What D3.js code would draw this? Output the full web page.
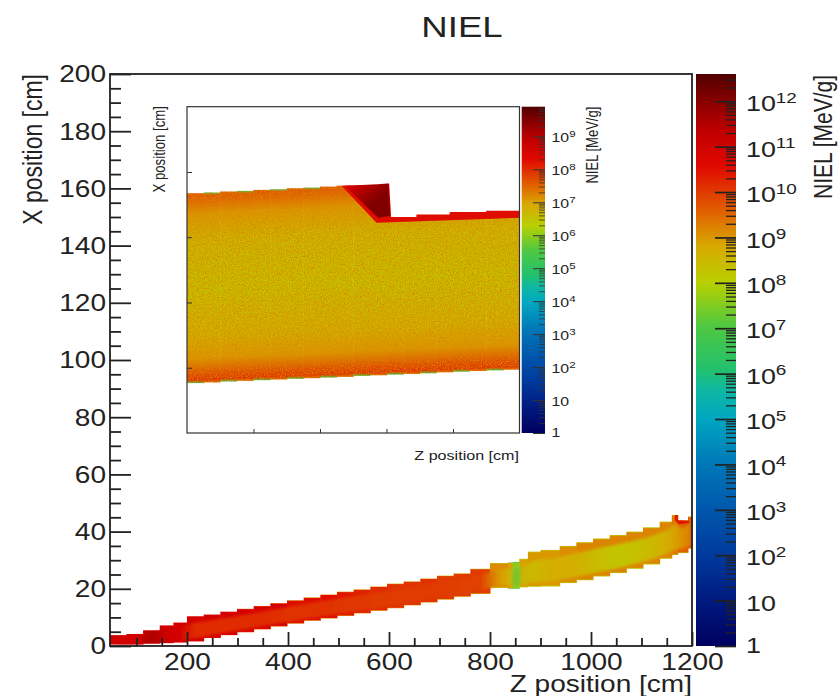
<!DOCTYPE html>
<html lang="en">
<head>
<meta charset="UTF-8">
<title>NIEL</title>
<script src="https://d3js.org/d3.v7.min.js"></script>
<style>
    html, body { margin: 0; padding: 0; background: #fff; }
    svg { display: block; }
    text { font-family: "Liberation Sans", Arial, sans-serif; fill: #222; }
    .axis path, .axis line { stroke: #222; }
    .inset path, .inset line { stroke: #333; }
</style>
</head>
<body>
<svg id="chart" width="840" height="696"></svg>
<script>
// main plot: one column per stair step, column i runs mainZ[i] .. mainZ[i+1]
const mainZ = [47, 80, 113, 146, 173, 200, 233, 266, 299, 332, 365, 398, 431, 464, 497, 530, 563, 596, 629, 662, 695, 728, 761,
    800, 835, 845, 858, 875, 900, 938, 971, 1004, 1037, 1070, 1103, 1136, 1160, 1172, 1192, 1200];
const mainTop = [3.8, 4.2, 5.5, 7.2, 8.2, 10.4, 11, 12, 13, 14, 15, 16, 17, 18, 19, 19.8, 20.8, 21.8, 22.6, 23.6, 24.6, 25.4, 27,
    29, 29.2, 29.4, 30.5, 33, 33.6, 35, 36.3, 37.6, 38.8, 40, 41.5, 43.5, 45.8, 44, 45.3];
const mainBottom = [0.5, 0.5, 0.8, 1, 1.2, 1.6, 2.8, 3.8, 4.8, 5.8, 6.8, 7.8, 8.8, 9.6, 10.5, 11.4, 12.3, 13.2, 14.2, 15.2, 16.2, 17.2, 18.2,
    20.3, 20, 20, 20.5, 20.7, 20.8, 22, 23, 24.3, 25.5, 27, 28.5, 30.5, 31.8, 32.5, 34];
// exponents of NIEL [MeV/g]: thin outer rim, edge zone, core of the column
const mainOuter = [10.8, 10.8, 11, 10.8, 10.8, 10.6, 10.6, 10.6, 10, 9.6, 9.4, 9.2, 9, 9, 9, 9, 9, 9, 8.8, 8.8, 8.8, 8.8, 8.6,
    8.2, 7.5, 6.6, 8, 8, 8, 8.2, 8.2, 8.2, 8.2, 8.2, 8.2, 8.4, 8.4, 8.6, 8.8];
const mainEdge = [10.9, 10.9, 11.4, 11, 10.9, 10.9, 10.9, 10.9, 10.8, 10.8, 10.8, 10.7, 10.6, 10.5, 10.4, 10.3, 10.2, 10.1, 10.1, 10.1, 10, 10, 10,
    9.1, 8.9, 7.6, 8.9, 9, 9, 9.1, 9.2, 9.2, 9.2, 9.2, 9.2, 9.2, 9.3, 9.6, 9.6];
const mainCore = [10.9, 10.9, 11.6, 11, 10.9, 10.2, 10.2, 10.2, 10.2, 10.2, 10.15, 10.1, 10.1, 10.1, 10.05, 10.05, 10, 10, 10, 10, 10, 9.95, 9.95,
    9, 8.6, 7.2, 8.6, 8.5, 8.7, 8.7, 8.6, 8.35, 8.25, 8.3, 8.5, 8.7, 8.9, 9.1, 9.2];
const mainRim = [0, 0.04, 0.96, 1];
// little red notch near the end of the tube
const notchZ = [1166, 1172, 1172, 1194, 1194, 1174, 1166];
const notchX = [45.8, 45.8, 44, 43.8, 43, 42.6, 44];

const xMajor = [200, 400, 600, 800, 1000, 1200];
const xMinor = [100, 150, 250, 300, 350, 450, 500, 550, 650, 700, 750, 850, 900, 950, 1050, 1100, 1150];
const yMajor = [0, 20, 40, 60, 80, 100, 120, 140, 160, 180, 200];
const yMinor = [5, 10, 15, 25, 30, 35, 45, 50, 55, 65, 70, 75, 85, 90, 95, 105, 110, 115, 125, 130, 135, 145, 150, 155, 165, 170, 175, 185, 190, 195];

// colour bar, position along the bar (0..1) and colour
const barPos = [0, 0.08, 0.16, 0.24, 0.32, 0.40, 0.45, 0.48, 0.56, 0.635, 0.70, 0.76, 0.84, 0.90, 0.96, 1];
const barColors = ["#00005f", "#001a80", "#003a9c", "#0058ac", "#0078b8", "#00a8c0", "#10b8a0", "#20c070", "#50c840", "#b8d000",
    "#d8a800", "#e06000", "#e00800", "#c00000", "#800000", "#500000"];
const mainDecades = [0, 1, 2, 3, 4, 5, 6, 7, 8, 9, 10, 11, 12];
const insetDecades = [0, 1, 2, 3, 4, 5, 6, 7, 8, 9];
const minorMult = [2, 3, 4, 5, 6, 7, 8, 9];

// inset, axis position in percent of the frame
const insetZ = [0, 5, 10, 15, 20, 25, 30, 35, 40, 45, 50, 55, 60, 65, 70, 75, 80, 85, 90, 95, 100];
const insetTop = [73.5, 73.7, 74, 74.2, 74.5, 74.7, 75, 75.2, 75.5, 75.8, 76, 76.2, 76.4, 76.6, 76.8, 77, 77.2, 77.4, 77.6, 77.8];
const insetBottom = [15.3, 15.5, 15.8, 16, 16.2, 16.4, 16.6, 16.8, 17, 17.2, 17.5, 17.7, 17.9, 18.1, 18.3, 18.6, 18.8, 19, 19.2, 19.4];
const insetRimTop = [7.5, 5.5, 7.5, 5.5, 7.5, 5.5, 7.5, 5.5, 7.5, 7.5, 7.5, 7.5, 7.5, 7.5, 7.5, 7.5, 7.5, 7.5, 7.5, 7.5];
const insetRimBottom = [5.5, 7.4, 5.5, 7.4, 5.5, 7.4, 5.5, 7.4, 5.5, 7.4, 5.5, 7.4, 5.5, 7.4, 5.5, 7.4, 5.5, 7.4, 5.5, 7.4];
const insetProfile = [0.012, 0.04, 0.11, 0.25, 0.5, 0.75, 0.87, 0.95, 0.985];
const insetValues = [7.6, 7.5, 7.05, 6.65, 6.5, 6.75, 7.05, 7.7, 7.95];
// outline of the band, keeps the columns under the recess
const clipZ = [0, 46.5, 57, 100, 100, 0];
const clipX = [80, 80, 64.6, 66.2, 0, 0];
const wedgeZ = [46.5, 58, 58, 60.8, 61.4, 69, 69, 79, 79, 90, 90, 100, 100, 57];
const wedgeX = [75.8, 75.9, 76.3, 76.5, 66.2, 66.2, 67, 67, 67.7, 67.7, 68.1, 68.1, 66, 64.4];
const darkZ = [47.5, 60.6, 61.1, 57.5];
const darkX = [75.8, 76.4, 66.6, 66];
const insetTicks = [20, 40, 60, 80];

const STRETCH = 1.22; // the picture is wider than tall, all glyphs go with it

const svg = d3.select("#chart");
const defs = svg.append("defs");

// scales
const x = d3.scaleLinear().domain([47.5, 1200]).range([110, 692]);
const y = d3.scaleLinear().domain([0, 200]).range([646, 74]);
const barMax = 12.6;
const barY = d3.scaleLog().domain([1, Math.pow(10, barMax)]).range([646, 74]);
const insetBarMax = 9.9;
const insetBarY = d3.scaleLog().domain([1, Math.pow(10, insetBarMax)]).range([433, 106.7]);
const ix = d3.scaleLinear().domain([0, 100]).range([187, 519.5]);
const iy = d3.scaleLinear().domain([0, 100]).range([433, 106.7]);

const palette = d3.scaleLinear().domain(barPos).range(barColors).clamp(true);
const mainColor = v => palette(v / barMax);
const insetColor = v => palette(v / insetBarMax);

// filters
defs.append("filter").attr("id", "soft")
    .append("feGaussianBlur").attr("stdDeviation", 0.7);
defs.append("filter").attr("id", "softer")
    .attr("x", "-2%").attr("y", "-10%").attr("width", "104%").attr("height", "120%")
    .append("feGaussianBlur").attr("stdDeviation", 1.6);

const speck = defs.append("filter").attr("id", "speck")
    .attr("color-interpolation-filters", "sRGB")
    .attr("x", "-2%").attr("y", "-2%").attr("width", "104%").attr("height", "104%");
speck.append("feTurbulence").attr("type", "fractalNoise").attr("baseFrequency", 0.75)
    .attr("numOctaves", 3).attr("seed", 4).attr("result", "noise");
speck.append("feColorMatrix").attr("in", "noise").attr("type", "matrix")
    .attr("values", "0 0 0 0 0.86  0 0 0 0 0.52  0 0 0 0 0  2.6 0 0 0 -1.05").attr("result", "spots");
speck.append("feComposite").attr("in", "spots").attr("in2", "SourceAlpha").attr("operator", "in").attr("result", "clipped");
const speckMerge = speck.append("feMerge").attr("result", "merged");
speckMerge.append("feMergeNode").attr("in", "SourceGraphic");
speckMerge.append("feMergeNode").attr("in", "clipped");
speck.append("feGaussianBlur").attr("in", "merged").attr("stdDeviation", 0.6);

const barFill = defs.append("linearGradient").attr("id", "barFill")
    .attr("x1", 0).attr("y1", 1).attr("x2", 0).attr("y2", 0);
barPos.forEach((p, i) => barFill.append("stop").attr("offset", p).attr("stop-color", barColors[i]));

function columnGradient(id, offsets, colors) {
    const g = defs.append("linearGradient").attr("id", id)
        .attr("x1", 0).attr("y1", 0).attr("x2", 0).attr("y2", 1);
    offsets.forEach((o, i) => g.append("stop").attr("offset", o).attr("stop-color", colors[i]));
}

// main columns
const mainG = svg.append("g").attr("filter", "url(#soft)");
mainTop.forEach((top, i) => {
    const id = "mc" + i;
    columnGradient(id, mainRim, [mainOuter[i], mainEdge[i], mainEdge[i], mainOuter[i]].map(mainColor));
    mainG.append("rect")
        .attr("x", x(mainZ[i]))
        .attr("y", y(top))
        .attr("width", x(mainZ[i + 1]) - x(mainZ[i]) + 0.5)
        .attr("height", y(mainBottom[i]) - y(top))
        .attr("fill", `url(#${id})`);
});

// core of the tube runs along the slope, over the stairs
const mid = mainTop.map((t, i) => (mainZ[i] + mainZ[i + 1]) / 2);
const coreFill = defs.append("linearGradient").attr("id", "coreFill")
    .attr("gradientUnits", "userSpaceOnUse")
    .attr("x1", x(47.5)).attr("y1", 0).attr("x2", x(1200)).attr("y2", 0);
mid.forEach((z, i) => coreFill.append("stop")
    .attr("offset", (x(z) - x(47.5)) / (x(1200) - x(47.5)))
    .attr("stop-color", mainColor(mainCore[i])));
svg.append("path")
    .datum(mid)
    .attr("filter", "url(#softer)")
    .attr("fill", "url(#coreFill)")
    .attr("d", d3.area()
        .x(z => x(z))
        .y0((z, i) => y(mainBottom[i] + (mainTop[i] - mainBottom[i]) * 0.13))
        .y1((z, i) => y(mainBottom[i] + (mainTop[i] - mainBottom[i]) * 0.76)));

svg.append("path")
    .datum(notchZ.map((z, i) => [x(z), y(notchX[i])]))
    .attr("filter", "url(#soft)")
    .attr("d", d3.line().curve(d3.curveLinearClosed))
    .attr("fill", mainColor(10.4));

// main axes
function styleMain(sel, w) {
    sel.select(".domain").remove();
    sel.selectAll("line").attr("stroke", "#222").attr("stroke-width", w);
}
svg.append("g").attr("class", "axis").attr("transform", "translate(0,646)")
    .call(d3.axisBottom(x).tickValues(xMinor).tickSize(-8).tickFormat(""))
    .call(styleMain, 1.8);
svg.append("g").attr("class", "axis").attr("transform", "translate(0,646)")
    .call(d3.axisBottom(x).tickValues(xMajor).tickSize(-14).tickFormat(d => d))
    .call(styleMain, 1.8)
    .call(g => g.selectAll("text")
        .attr("y", 0).attr("dy", 0)
        .attr("transform", `translate(0,24) scale(${STRETCH},1)`)
        .attr("font-size", 23).style("fill", "#222"));
svg.append("g").attr("class", "axis").attr("transform", "translate(110,0)")
    .call(d3.axisLeft(y).tickValues(yMinor).tickSize(-11).tickFormat(""))
    .call(styleMain, 1.8);
svg.append("g").attr("class", "axis").attr("transform", "translate(110,0)")
    .call(d3.axisLeft(y).tickValues(yMajor).tickSize(-21).tickFormat(d => d))
    .call(styleMain, 1.8)
    .call(g => g.selectAll("text")
        .attr("x", 0).attr("dy", "0.34em")
        .attr("transform", `translate(-4,0) scale(${STRETCH},1)`)
        .attr("font-size", 23).style("fill", "#222"));

// frame of the main plot
svg.append("rect").attr("x", 110).attr("y", 74).attr("width", 582).attr("height", 572)
    .attr("fill", "none").attr("stroke", "#222").attr("stroke-width", 1.8);

// colour bars
function drawBar(opts) {
    const { left, right, scale, decades, top, bottom, major, minor, font, supFont, labelX, stroke, width, maxDec, cls } = opts;
    svg.append("rect").attr("x", left).attr("y", top)
        .attr("width", right - left).attr("height", bottom - top)
        .attr("fill", "url(#barFill)");

    const minors = [];
    decades.forEach(d => minorMult.forEach(m => {
        if (d + Math.log10(m) < maxDec) minors.push(m * Math.pow(10, d));
    }));
    svg.append("g").attr("class", cls).attr("transform", `translate(${right},0)`)
        .call(d3.axisRight(scale).tickValues(minors).tickSize(-minor).tickFormat(""))
        .call(g => g.select(".domain").remove())
        .call(g => g.selectAll("line").attr("stroke", stroke).attr("stroke-width", width));
    svg.append("g").attr("class", cls).attr("transform", `translate(${right},0)`)
        .call(d3.axisRight(scale).tickValues(decades.map(d => Math.pow(10, d))).tickSize(-major).tickFormat(""))
        .call(g => g.select(".domain").remove())
        .call(g => g.selectAll("line").attr("stroke", stroke).attr("stroke-width", width * 1.3));

    decades.forEach(d => {
        const shift = d === 0 ? 0.34 : 0.46;
        const t = svg.append("text")
            .attr("transform", `translate(${labelX},${scale(Math.pow(10, d)) + font * shift}) scale(${STRETCH},1)`)
            .attr("font-size", font);
        if (d === 0) t.text("1");
        else if (d === 1) t.text("10");
        else {
            t.append("tspan").text("10");
            t.append("tspan").attr("font-size", supFont).attr("dy", -font * 0.38).text(d);
        }
    });
}

drawBar({ left: 696, right: 736, top: 74, bottom: 646, scale: barY, decades: mainDecades, major: 21, minor: 10,
    font: 22, supFont: 15.5, labelX: 746, stroke: "#111", width: 1.3, maxDec: barMax, cls: "axis" });

// inset
defs.append("clipPath").attr("id", "bandClip")
    .append("path")
    .datum(clipZ.map((z, i) => [ix(z), iy(clipX[i])]))
    .attr("d", d3.line().curve(d3.curveLinearClosed));
const insetBand = svg.append("g").attr("clip-path", "url(#bandClip)")
    .append("g").attr("filter", "url(#speck)");
insetTop.forEach((top, i) => {
    const id = "ic" + i;
    const offsets = [0].concat(insetProfile, [1]);
    const values = [insetRimTop[i]].concat(insetValues, [insetRimBottom[i]]);
    columnGradient(id, offsets, values.map(insetColor));
    insetBand.append("rect")
        .attr("x", ix(insetZ[i]))
        .attr("y", iy(top))
        .attr("width", ix(insetZ[i + 1]) - ix(insetZ[i]) + 0.5)
        .attr("height", iy(insetBottom[i]) - iy(top))
        .attr("fill", `url(#${id})`);
});

const wedgeG = svg.append("g").attr("filter", "url(#soft)");
const dg = defs.append("linearGradient").attr("id", "darkFill").attr("x1", 0).attr("y1", 0).attr("x2", 1).attr("y2", 1);
dg.append("stop").attr("offset", 0.1).attr("stop-color", insetColor(8.6));
dg.append("stop").attr("offset", 0.6).attr("stop-color", insetColor(9.5));
wedgeG.append("path")
    .datum(wedgeZ.map((z, i) => [ix(z), iy(wedgeX[i])]))
    .attr("d", d3.line().curve(d3.curveLinearClosed))
    .attr("fill", insetColor(8.35));
wedgeG.append("path")
    .datum(darkZ.map((z, i) => [ix(z), iy(darkX[i])]))
    .attr("d", d3.line().curve(d3.curveLinearClosed))
    .attr("fill", "url(#darkFill)");

svg.append("rect").attr("x", 187).attr("y", 106.7).attr("width", 332.5).attr("height", 326.3)
    .attr("fill", "none").attr("stroke", "#333").attr("stroke-width", 1.2);
svg.append("g").attr("class", "inset").attr("transform", "translate(0,433)")
    .call(d3.axisBottom(ix).tickValues(insetTicks).tickSize(-4).tickFormat(""))
    .call(g => g.select(".domain").remove());
svg.append("g").attr("class", "inset").attr("transform", "translate(187,0)")
    .call(d3.axisLeft(iy).tickValues(insetTicks).tickSize(-5).tickFormat(""))
    .call(g => g.select(".domain").remove());

drawBar({ left: 521.7, right: 545, top: 106.7, bottom: 433, scale: insetBarY, decades: insetDecades, major: 12, minor: 6,
    font: 13, supFont: 9.5, labelX: 551.5, stroke: "#222", width: 0.8, maxDec: insetBarMax, cls: "inset" });

// titles
function label(txt, px, py, size, anchor, rotated) {
    svg.append("text")
        .attr("transform", `translate(${px},${py}) scale(${STRETCH},1)` + (rotated ? " rotate(-90)" : ""))
        .attr("font-size", size)
        .attr("text-anchor", anchor)
        .text(txt);
}
label("NIEL", 462, 37, 30, "middle", false);
label("Z position [cm]", 692, 692, 23, "end", false);
label("X position [cm]", 42, 74, 23, "end", true);
label("NIEL [MeV/g]", 832, 75, 21, "end", true);
label("X position [cm]", 165, 106, 13.2, "end", true);
label("Z position [cm]", 519, 460, 13.2, "end", false);
label("NIEL [MeV/g]", 598, 106.7, 13, "end", true);
</script>
</body>
</html>
